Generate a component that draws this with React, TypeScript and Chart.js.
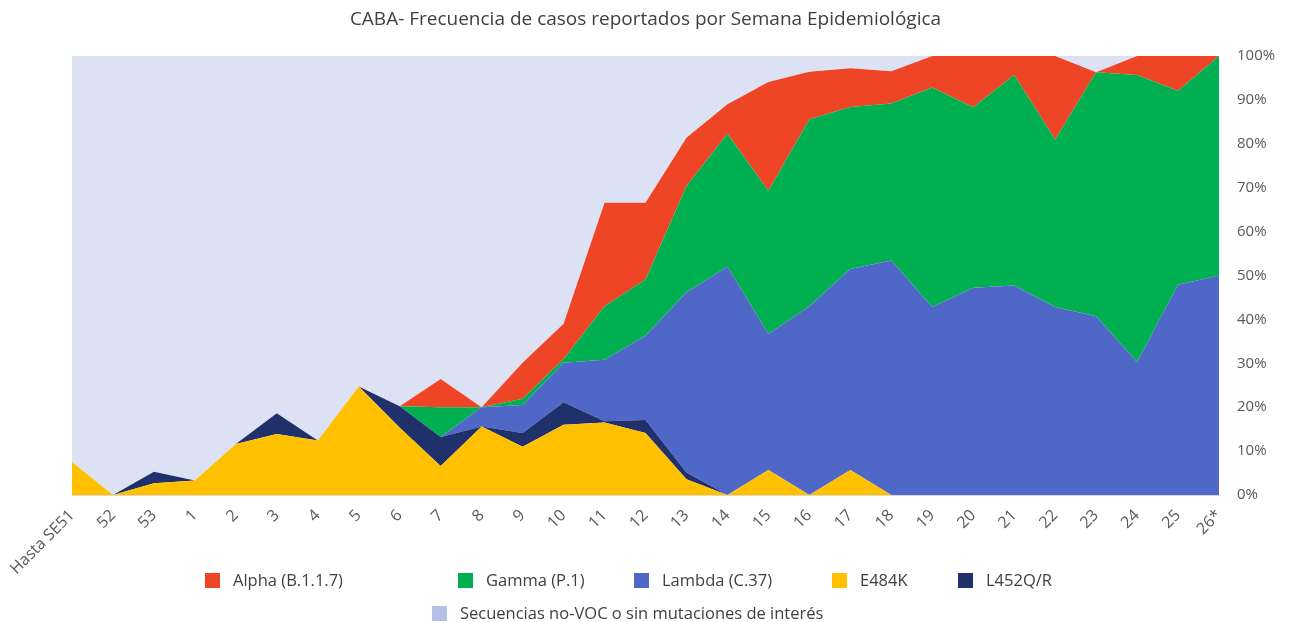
import React, { useEffect, useRef } from "react";
import { Chart, registerables } from "chart.js";

Chart.register(...registerables);

const categories = [
  "Hasta SE51", "52", "53", "1", "2", "3", "4", "5", "6", "7", "8", "9", "10",
  "11", "12", "13", "14", "15", "16", "17", "18", "19", "20", "21", "22", "23",
  "24", "25", "26*",
];

const e484k = [7.5, 0, 2.7, 3.3, 11.6, 13.9, 12.4, 24.7, 15.3, 6.6, 15.6, 11.0, 16.0, 16.5, 14.1, 3.6, 0, 5.7, 0, 5.7, 0, 0, 0, 0, 0, 0, 0, 0, 0];
const l452 = [0, 0, 2.6, 0, 0, 4.7, 0, 0, 4.9, 6.6, 0, 3.1, 5.1, 0.3, 3.0, 1.5, 0, 0, 0, 0, 0, 0, 0, 0, 0, 0, 0, 0, 0];
const lambda = [0, 0, 0, 0, 0, 0, 0, 0, 0, 0, 4.4, 6.4, 9.0, 14.0, 19.2, 41.1, 52.0, 31.0, 43.0, 45.8, 53.4, 42.8, 47.2, 47.7, 42.8, 40.7, 30.3, 47.9, 50.0];
const gamma = [0, 0, 0, 0, 0, 0, 0, 0, 0, 6.8, 0, 1.4, 0.9, 12.2, 12.8, 24.2, 30.3, 32.6, 42.6, 36.9, 35.8, 50.0, 41.1, 48.0, 38.2, 55.6, 65.4, 44.2, 50.0];
const alpha = [0, 0, 0, 0, 0, 0, 0, 0, 0, 6.4, 0, 8.2, 8.0, 23.6, 17.5, 11.0, 6.7, 24.8, 10.8, 8.8, 7.3, 7.2, 11.7, 4.3, 19.0, 0, 4.3, 7.9, 0];
const otros = [92.5, 100, 94.7, 96.7, 88.4, 81.4, 87.6, 75.3, 79.8, 73.6, 80, 69.9, 61, 33.4, 33.4, 18.6, 11, 5.9, 3.6, 2.8, 3.5, 0, 0, 0, 0, 3.7, 0, 0, 0];

const yTicks = [0, 10, 20, 30, 40, 50, 60, 70, 80, 90, 100];

const TITLE = "CABA- Frecuencia de casos reportados por Semana Epidemiológica";
const FONT = "'Open Sans', 'Noto Sans', sans-serif";

const COLORS = {
  alpha: "#EF4527",
  gamma: "#00B050",
  lambda: "#4F68C8",
  e484k: "#FFC000",
  l452: "#20306B",
  otros: "#DCE1F3",
  otrosLegend: "#B4C0E6",
};

const legendItems = [
  { label: "Alpha (B.1.1.7)", color: COLORS.alpha, left: 205, top: 572 },
  { label: "Gamma (P.1)", color: COLORS.gamma, left: 458, top: 572 },
  { label: "Lambda (C.37)", color: COLORS.lambda, left: 634, top: 572 },
  { label: "E484K", color: COLORS.e484k, left: 832, top: 572 },
  { label: "L452Q/R", color: COLORS.l452, left: 958, top: 572 },
  { label: "Secuencias no-VOC o sin mutaciones de interés", color: COLORS.otrosLegend, left: 432, top: 605 },
];

export default function App() {
  const canvasRef = useRef<HTMLCanvasElement | null>(null);

  useEffect(() => {
    document.body.style.margin = "0";
    document.body.style.overflow = "hidden";
    const canvas = canvasRef.current;
    if (!canvas) return;
    const mk = (label: string, data: number[], color: string, fill: any) => ({
      label,
      data,
      backgroundColor: color,
      borderColor: color,
      borderWidth: 0,
      pointRadius: 0,
      pointHoverRadius: 0,
      tension: 0,
      fill,
      yAxisID: "y",
    });
    const chart = new Chart(canvas, {
      type: "line",
      data: {
        labels: categories,
        datasets: [
          mk("E484K", e484k, COLORS.e484k, "origin"),
          mk("L452Q/R", l452, COLORS.l452, "-1"),
          mk("Lambda (C.37)", lambda, COLORS.lambda, "-1"),
          mk("Gamma (P.1)", gamma, COLORS.gamma, "-1"),
          mk("Alpha (B.1.1.7)", alpha, COLORS.alpha, "-1"),
          mk("Secuencias no-VOC o sin mutaciones de interés", otros, COLORS.otros, "-1"),
        ],
      },
      options: {
        responsive: false,
        animation: false,
        devicePixelRatio: 1,
        layout: { padding: 0 },
        plugins: {
          legend: { display: false },
          tooltip: { enabled: false },
          title: {
            display: true,
            text: TITLE,
            color: "#404040",
            font: { family: FONT, size: 19, weight: "normal" },
            padding: { top: 8, bottom: 25.2 },
          },
        },
        scales: {
          x: {
            type: "category",
            offset: false,
            grid: { display: false, drawTicks: false },
            border: { display: true, color: "#D9D9D9", width: 1 },
            ticks: {
              autoSkip: false,
              maxRotation: 45,
              minRotation: 45,
              padding: 11,
              color: "#595959",
              font: { family: FONT, size: 16 },
            },
            afterFit: (s: any) => {
              s.height = 127;
            },
          },
          y: {
            position: "right",
            stacked: true,
            min: 0,
            max: 100,
            afterBuildTicks: (s: any) => {
              s.ticks = yTicks.map((v) => ({ value: v }));
            },
            grid: { display: false, drawTicks: false },
            border: { display: false },
            ticks: {
              padding: 18,
              color: "#595959",
              font: { family: FONT, size: 15 },
              callback: (v: any) => `${v}%`,
            },
            afterFit: (s: any) => {
              s.width = 72;
            },
          },
          yLeft: {
            position: "left",
            display: true,
            grid: { display: false, drawTicks: false },
            border: { display: false },
            ticks: { display: false },
            afterFit: (s: any) => {
              s.width = 72;
            },
          },
        },
      },
    });
    return () => chart.destroy();
  }, []);

  return (
    <div style={{ position: "relative", width: 1291, height: 622, background: "#fff", fontFamily: FONT }}>
      <canvas ref={canvasRef} width={1291} height={622} style={{ display: "block", width: 1291, height: 622 }} />
      {legendItems.map((it) => (
        <div
          key={it.label}
          style={{
            position: "absolute",
            left: it.left,
            top: it.top,
            height: 16,
            display: "flex",
            alignItems: "center",
            whiteSpace: "nowrap",
          }}
        >
          <span style={{ display: "inline-block", width: 15, height: 15, background: it.color, marginRight: 13, flex: "none" }} />
          <span style={{ fontSize: 16.5, color: "#404040", lineHeight: "16px" }}>{it.label}</span>
        </div>
      ))}
    </div>
  );
}
